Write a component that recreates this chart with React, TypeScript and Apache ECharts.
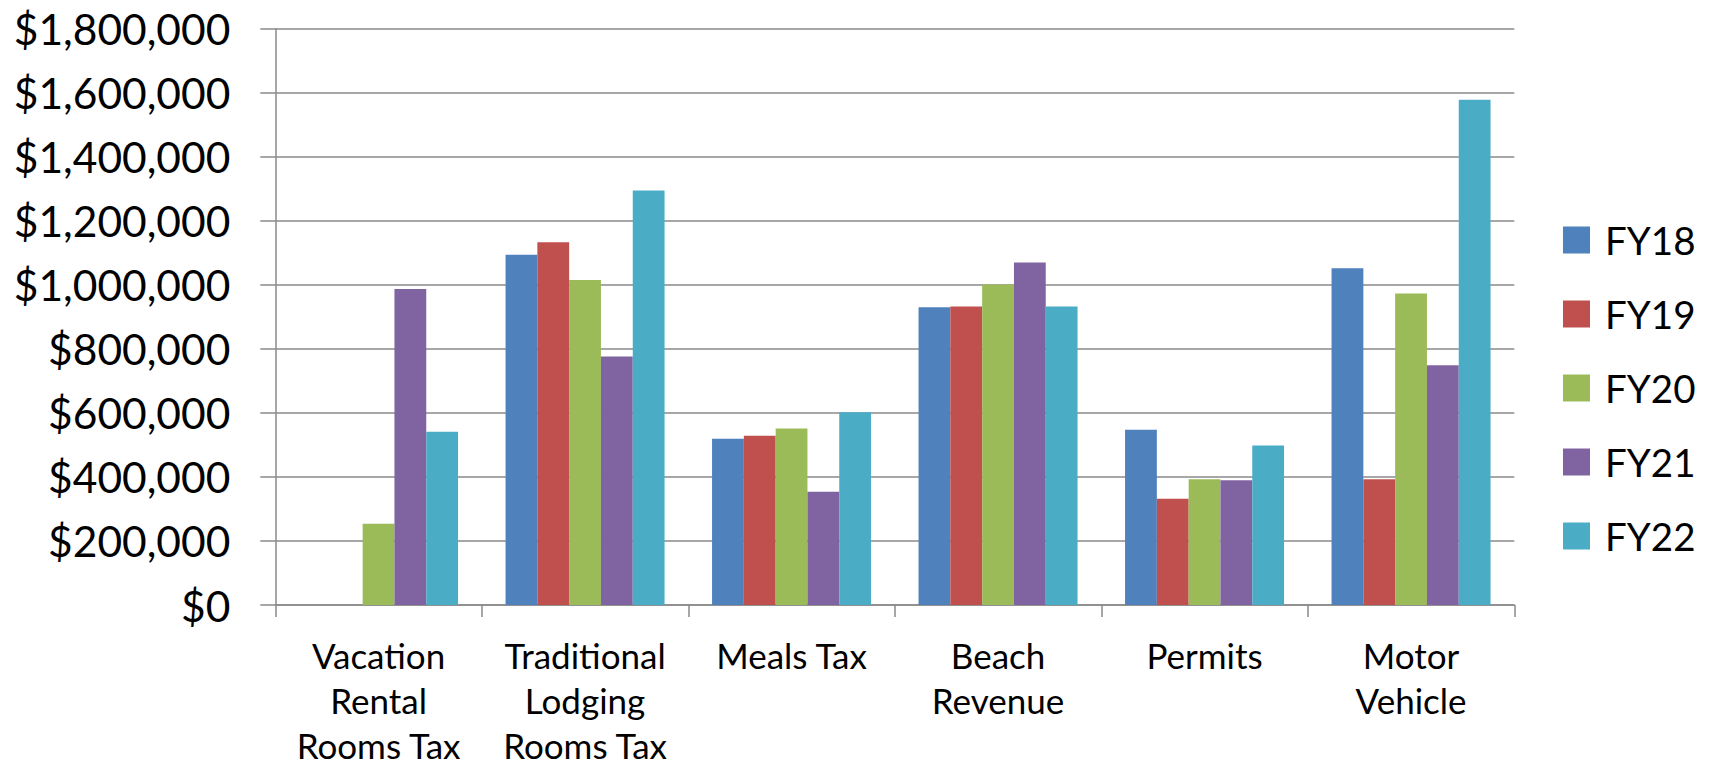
import React, { useEffect, useRef } from "react";
import * as echarts from "echarts";

const categories = [
  "Vacation\nRental\nRooms Tax",
  "Traditional\nLodging\nRooms Tax",
  "Meals Tax",
  "Beach\nRevenue",
  "Permits",
  "Motor\nVehicle",
];

const seriesNames = ["FY18", "FY19", "FY20", "FY21", "FY22"];
const fy18 = [null, 1094000, 519000, 930000, 547000, 1052000];
const fy19 = [null, 1133000, 529000, 932000, 332000, 393000];
const fy20 = [254000, 1015000, 551000, 1001000, 393000, 973000];
const fy21 = [987000, 776000, 354000, 1070000, 390000, 749000];
const fy22 = [541000, 1295000, 602000, 932000, 498000, 1578000];
const seriesColors = ["#4F81BD", "#C0504D", "#9BBB59", "#8064A2", "#4BACC6"];

const yMin = 0;
const yMax = 1800000;
const yInterval = 200000;

const FONT = "Lato";
const GRAY = "#8a8a8a";

export default function App() {
  const ref = useRef<HTMLDivElement>(null);
  useEffect(() => {
    if (!ref.current) return;
    const chart = echarts.init(ref.current, undefined, { renderer: "svg" });
    const values = [fy18, fy19, fy20, fy21, fy22];
    chart.setOption({
      animation: false,
      backgroundColor: "#ffffff",
      textStyle: { fontFamily: FONT },
      grid: { left: 275.3, right: 196.7, top: 28.7, bottom: 154.7, containLabel: false },
      legend: {
        orient: "vertical",
        left: 1563,
        top: 220,
        padding: 0,
        itemWidth: 27,
        itemHeight: 27,
        itemGap: 34,
        icon: "rect",
        data: seriesNames,
        textStyle: {
          fontFamily: FONT,
          fontSize: 38.5,
          color: "#000",
          lineHeight: 40,
          padding: [0, 0, 0, 10],
        },
      },
      xAxis: {
        type: "category",
        data: categories,
        axisLine: { show: true, lineStyle: { color: GRAY, width: 1.5 } },
        axisTick: { show: true, length: 12, lineStyle: { color: GRAY, width: 1.5 } },
        axisLabel: {
          interval: 0,
          margin: 27,
          fontFamily: FONT,
          fontSize: 35,
          lineHeight: 45,
          color: "#000",
        },
        splitLine: { show: false },
      },
      yAxis: {
        type: "value",
        min: yMin,
        max: yMax,
        interval: yInterval,
        axisLine: { show: true, lineStyle: { color: GRAY, width: 1.5 } },
        axisTick: { show: true, length: 15, lineStyle: { color: GRAY, width: 1.5 } },
        axisLabel: {
          margin: 45,
          fontFamily: FONT,
          fontSize: 42.5,
          color: "#000",
          formatter: (v: number) => "$" + v.toLocaleString("en-US"),
        },
        splitLine: { show: true, lineStyle: { color: GRAY, width: 1.5 } },
      },
      series: seriesNames.map((name, i) => ({
        name,
        type: "bar",
        data: values[i],
        barGap: "0%",
        barCategoryGap: "23%",
        itemStyle: { color: seriesColors[i] },
      })),
    });
    return () => chart.dispose();
  }, []);
  return (
    <div
      ref={ref}
      style={{ position: "fixed", left: 0, top: 0, width: 1711, height: 767 }}
    />
  );
}
